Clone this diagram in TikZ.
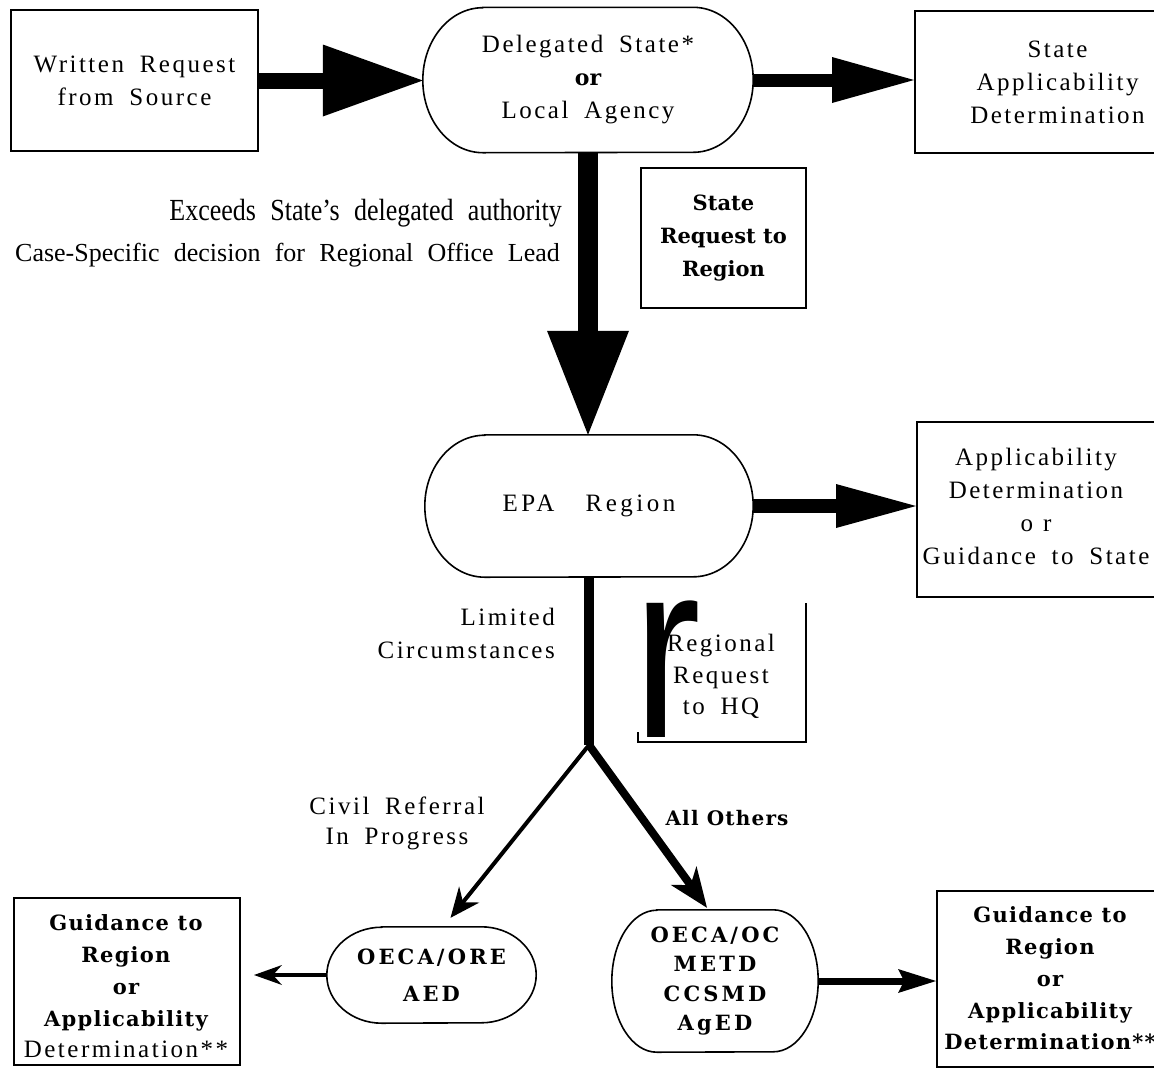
\documentclass[tikz,border=0pt]{standalone}
\usepackage{fontspec}
\setmainfont{Liberation Serif}
\newfontfamily\lsp[LetterSpace=10,WordSpace=1.8]{Liberation Serif}
\newfontfamily\lspw[LetterSpace=14,WordSpace=3.2]{Liberation Serif}
\newfontfamily\wsp[WordSpace=2.2]{Liberation Serif}
\newfontfamily\dvbA[LetterSpace=6]{DejaVu Serif}
\newfontfamily\dvbB[LetterSpace=15]{DejaVu Serif}
\newfontfamily\dvbC{DejaVu Serif}
\newfontfamily\lsans{Liberation Sans}
\newcommand\bkA{\dvbA\bfseries}
\newcommand\bkB{\dvbB\bfseries}
\newcommand\bkC{\dvbC\bfseries}
\usetikzlibrary{arrows.meta,calc}
\tikzset{
  boxline/.style={draw, line width=2pt, inner sep=0pt},
  plain/.style={inner sep=0pt, align=center},
  stadline/.style={line width=1.6pt},
  regtext/.style={font=\lsp\fontsize{25}{33}\selectfont, inner sep=0pt, align=center},
}
\newcommand\drawstad[3]{%
  \draw[stadline] ($(#1.north west)+(#2pt,0)$) -- ($(#1.north east)+(-#2pt,0)$)
    arc[start angle=90,end angle=-90,x radius=#2pt,y radius=#3pt]
    -- ($(#1.south west)+(#2pt,0)$)
    arc[start angle=270,end angle=90,x radius=#2pt,y radius=#3pt] -- cycle;}
\begin{document}
\begin{tikzpicture}[x=1pt,y=1pt]
\fill[white] (0,0) rectangle (1154,-1077);
\useasboundingbox (0,0) rectangle (1154,-1077);

% top row
\node[boxline, minimum width=247pt, minimum height=141pt, regtext] (src) at (134.5,-80.5) {Written Request\\from Source};
\node[plain, minimum width=330pt, minimum height=145pt, regtext] (del) at (588,-80) {Delegated State*\\{\bkC\fontsize{22}{33}\selectfont or}\\Local Agency};
\drawstad{del}{60}{72.5}
\node[boxline, minimum width=285pt, minimum height=142pt, regtext] (sad) at (1057.5,-82) {State\\Applicability\\Determination};
\draw[line width=16pt, -{Triangle[length=100pt,width=72pt,line width=0pt]}] (src.east) -- (src.east -| del.west);
\draw[line width=13pt, -{Triangle[length=82pt,width=46pt,line width=0pt]}] (del.east) -- (del.east -| sad.west);

% middle
\node[boxline, minimum width=165pt, minimum height=140pt, font=\bkC\fontsize{21}{33}\selectfont, align=center] (srq) at (723.5,-238) {State\\Request to\\Region};
\node[anchor=east, inner sep=0pt, font=\wsp\fontsize{26}{30}\selectfont, yscale=1.18] (exc) at (562,-213) {Exceeds State’s delegated authority};
\node[anchor=east, inner sep=0pt, font=\wsp\fontsize{26}{30}\selectfont] (csd) at (560,-255) {Case-Specific decision for Regional Office Lead};

\node[plain, minimum width=328pt, minimum height=142pt, font=\lspw\fontsize{25}{33}\selectfont] (epa) at (589,-506) {EPA Region};
\drawstad{epa}{60}{71}
\draw[line width=20pt, -{Triangle[length=104pt,width=82pt,line width=0pt]}] (del.south) -- (del.south |- epa.north);

\node[boxline, minimum width=283pt, minimum height=175pt] (apd) at (1058.5,-509.5) {};
\node[regtext] (apdt) at (1036,-506.5) {Applicability\\Determination\\{\addfontfeature{LetterSpace=40}or}\\Guidance to State};
\draw[line width=14pt, -{Triangle[length=80pt,width=44pt,line width=0pt]}] (epa.east) -- (epa.east -| apd.west);

% lower
\node[regtext, align=right, anchor=east] (lim) at (555,-633.5) {Limited\\Circumstances};
\node[regtext, font=\lsp\fontsize{25}{31.5}\selectfont] (rrq) at (721,-676.5) {Regional\\Request\\to HQ};
\draw[boxline] (638,-732) -- (638,-742) -- (806,-742) -- (806,-603);
\node[anchor=base west, inner sep=0pt, font=\lsans\fontsize{254}{254}\selectfont, xscale=0.8] (bigr) at (633,-737) {r};

\coordinate (br) at (589,-745);
\draw[line width=10pt] (epa.south) -- (br);

\node[plain, minimum width=209pt, minimum height=96pt, font=\bkB\fontsize{21}{37}\selectfont] (ore) at (431.5,-975) {OECA/ORE\\AED};
\drawstad{ore}{55}{48}
\node[plain, minimum width=206pt, minimum height=142pt, font=\bkB\fontsize{21}{29.5}\selectfont] (oc) at (715,-981) {OECA/OC\\METD\\CCSMD\\AgED};
\drawstad{oc}{45}{71}

\coordinate (oretip) at ($(ore.north)+(19pt,9pt)$);
\coordinate (octip) at ($(oc.north)+(-8pt,2pt)$);
\draw[line width=4pt, line cap=round, -{Stealth[length=30pt,width=26pt,inset=10pt,line width=0pt]}] (br) -- (oretip);
\draw[line width=8pt, -{Stealth[length=40pt,width=32pt,inset=12pt,line width=0pt]}] (br) -- (octip);

\node[regtext, font=\lsp\fontsize{25}{30}\selectfont] (civ) at (397,-823) {Civil Referral\\In Progress};
\node[inner sep=0pt, font=\bkA\fontsize{20}{24}\selectfont] (oth) at (727,-818) {All Others};

% bottom boxes
\node[boxline, minimum width=226pt, minimum height=167pt] (lbx) at (127,-981.5) {};
\node[plain, font=\fontsize{21}{31.75}\selectfont] (lbxt) at (126,-986.5) {{\bkA Guidance to}\\{\bkA Region}\\{\bkA or}\\{\bkA Applicability}\\{\lsp\fontsize{25}{31.75}\selectfont Determination**}};
\coordinate (lbtip) at ($(lbx.east)+(13pt,0)$);
\draw[line width=3.5pt, -{Stealth[length=28pt,width=20pt,inset=9pt,line width=0pt]}] (ore.west) -- (ore.west -| lbtip);

\node[boxline, minimum width=263pt, minimum height=176pt] (rbx) at (1068.5,-979) {};
\node[plain, font=\bkA\fontsize{21}{31.75}\selectfont] (rbxt) at (1050,-978.5) {Guidance to\\Region\\or\\Applicability\\Determination**};
\draw[line width=7pt, -{Stealth[length=38pt,width=24pt,inset=6pt,line width=0pt]}] (oc.east) -- (oc.east -| rbx.west);
\end{tikzpicture}
\end{document}
